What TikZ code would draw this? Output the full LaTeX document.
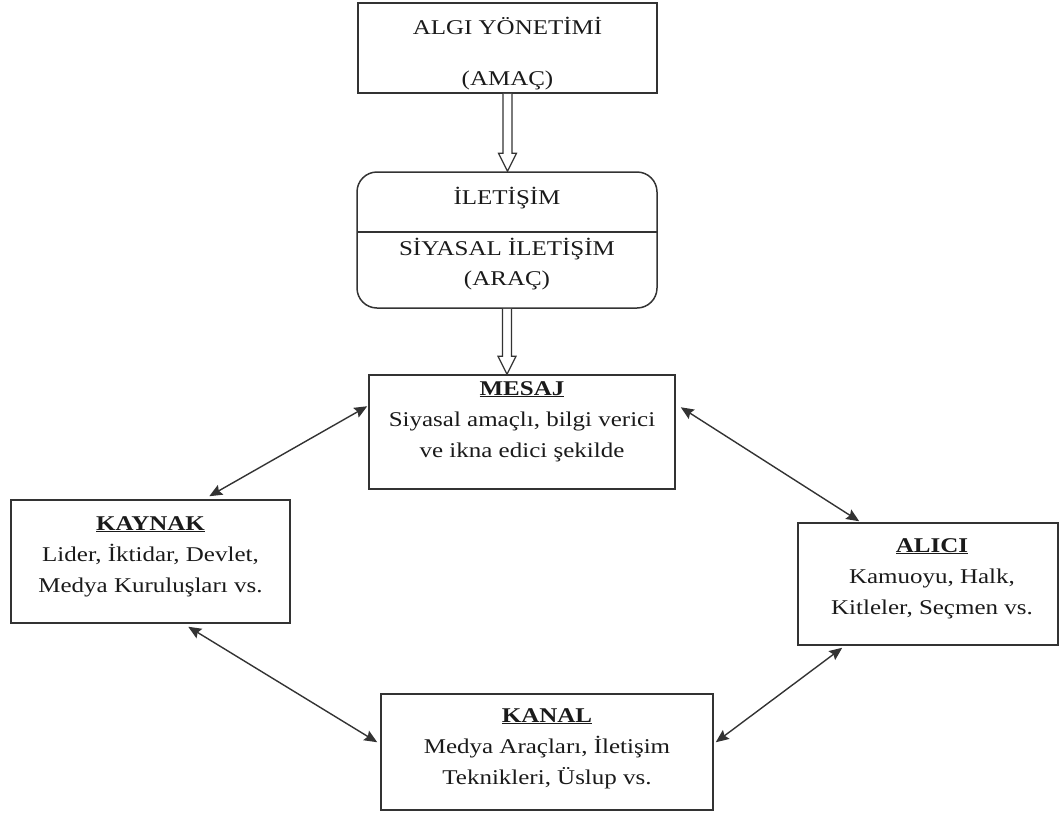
\documentclass[tikz,border=0pt]{standalone}
\usepackage{fontspec}
\setmainfont{Liberation Serif}[FakeStretch=1.19]
\usetikzlibrary{arrows.meta,calc}
\definecolor{ln}{HTML}{333333}
\definecolor{tx}{HTML}{1A1A1A}
\tikzset{
  boxn/.style={draw=ln, line width=1.5pt, minimum width=#1, inner sep=0pt},
  lbl/.style={text=tx, align=center, inner sep=0pt, anchor=base, font=\fontsize{21}{31}\selectfont},
  hollow/.style={draw=ln, line width=1.2pt, fill=white},
  biarrow/.style={draw=ln, line width=1.4pt, {Stealth[length=13pt,width=11pt,inset=2pt]}-{Stealth[length=13pt,width=11pt,inset=2pt]}}
}
\newcommand{\hd}[1]{\underline{\textbf{#1}}}
\begin{document}
\begin{tikzpicture}[x=1pt,y=-1pt]
\useasboundingbox (0,0) rectangle (1062,814);
% boxes
\node[boxn=299pt, minimum height=90pt] (alg) at (507.5,48) {};
\node[boxn=300pt, minimum height=136pt, rounded corners=20pt] (ilet) at (507,240) {};
\node[boxn=306pt, minimum height=114pt] (mesaj) at (522,432) {};
\node[boxn=279pt, minimum height=123pt] (kaynak) at (150.5,561.5) {};
\node[boxn=260pt, minimum height=122pt] (alici) at (928,584) {};
\node[boxn=332pt, minimum height=116pt] (kanal) at (547,752) {};
% divider
\coordinate (dl) at (357,232);
\coordinate (dr) at (657,232);
\draw[draw=ln, line width=1.5pt] (dl) -- (dr);
% texts (anchor = baseline of the last line)
\node[lbl] (t1) at (507.5,85) {ALGI YÖNETİMİ\\[20pt](AMAÇ)};
\node[lbl] (t2) at (507,204) {İLETİŞİM};
\node[lbl, font=\fontsize{21}{30}\selectfont] (t3) at (507,285) {SİYASAL İLETİŞİM\\(ARAÇ)};
\node[lbl] (t4) at (522,457) {\hd{MESAJ}\\Siyasal amaçlı, bilgi verici\\ve ikna edici şekilde};
\node[lbl] (t5) at (150.5,592) {\hd{KAYNAK}\\Lider, İktidar, Devlet,\\Medya Kuruluşları vs.};
\node[lbl] (t6) at (932,614) {\hd{ALICI}\\Kamuoyu, Halk,\\Kitleler, Seçmen vs.};
\node[lbl] (t7) at (547,784) {\hd{KANAL}\\Medya Araçları, İletişim\\Teknikleri, Üslup vs.};
% hollow arrows
\draw[hollow] let \p1=(alg.south), \p2=(ilet.north) in
  (\x1-4.5pt,\y1) -- (\x1-4.5pt,\y2+18pt) -- (\x1-9pt,\y2+18pt) -- (\x1,\y2)
  -- (\x1+9pt,\y2+18pt) -- (\x1+4.5pt,\y2+18pt) -- (\x1+4.5pt,\y1);
\draw[hollow] let \p1=(ilet.south), \p2=(mesaj.north) in
  (\x1-4.5pt,\y1) -- (\x1-4.5pt,\y2+18pt) -- (\x1-9pt,\y2+18pt) -- (\x1,\y2)
  -- (\x1+9pt,\y2+18pt) -- (\x1+4.5pt,\y2+18pt) -- (\x1+4.5pt,\y1);
% double-headed connectors
\draw[biarrow] ($(mesaj.north west)+(-1,32)$) -- ($(kaynak.north west)+(199,-3)$);
\draw[biarrow] ($(mesaj.north east)+(5,33)$) -- ($(alici.north west)+(62,-1)$);
\draw[biarrow] ($(kaynak.south west)+(178,3)$) -- ($(kanal.north west)+(-3,49)$);
\draw[biarrow] ($(alici.south west)+(45,2)$) -- ($(kanal.north east)+(2,49)$);
\end{tikzpicture}
\end{document}
